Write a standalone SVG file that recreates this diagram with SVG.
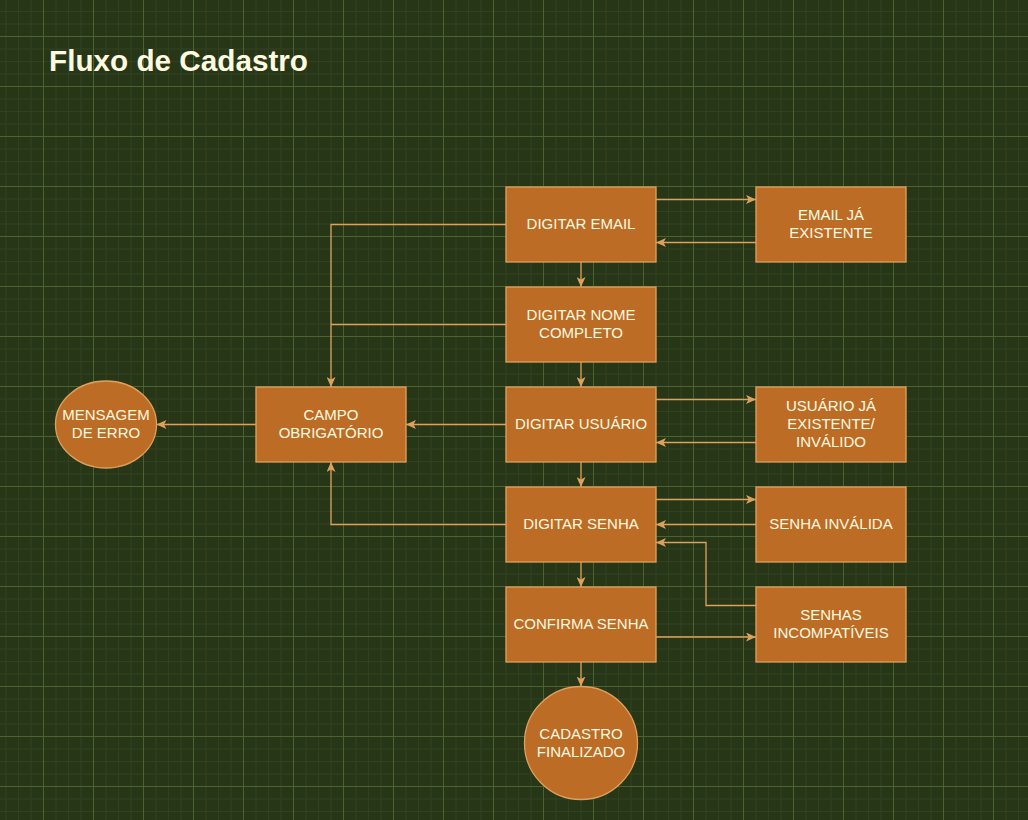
<svg xmlns="http://www.w3.org/2000/svg" width="1028" height="820" viewBox="0 0 1028 820">
  <style>
    .node { fill: #BC6C25; stroke: #DDA15E; stroke-width: 1.3; }
    .lbl { font-family: "Liberation Sans", Arial, sans-serif; font-size: 15px; fill: #FEFAE0; text-anchor: middle; }
    .title { font-family: "Liberation Sans", Arial, sans-serif; font-size: 29.7px; font-weight: bold; fill: #FEFAE0; }
    .edge { fill: none; stroke: #DDA15E; stroke-width: 1.3; }
    .arr { marker-end: url(#arrow); }
  </style>
  <defs>
    <pattern id="grid" x="43" y="36" width="50" height="50" patternUnits="userSpaceOnUse">
      <path d="M13,0 V50 M25.5,0 V50 M38,0 V50 M0,13 H50 M0,25.5 H50 M0,38 H50" stroke="#31411F" stroke-width="1" fill="none"/>
      <path d="M0.5,0 V50 M0,0.5 H50" stroke="#4A6330" stroke-width="1" fill="none"/>
    </pattern>
    <marker id="arrow" viewBox="0 0 10 9" refX="10" refY="4.5" markerWidth="10" markerHeight="9" markerUnits="userSpaceOnUse" orient="auto">
      <path d="M0,0 L10,4.5 L0,9 L2.5,4.5 Z" fill="#DDA15E"/>
    </marker>
  </defs>
  <rect x="0" y="0" width="1028" height="820" fill="#283618"/>
  <rect x="0" y="0" width="1028" height="820" fill="url(#grid)"/>

  <text class="title" x="49" y="71">Fluxo de Cadastro</text>

  <g id="connectors">
    <path class="edge arr" d="M656,199.5 H756"/>
    <path class="edge arr" d="M756,242.5 H656"/>
    <path class="edge arr" d="M581,262 V287"/>
    <path class="edge arr" d="M506,224.5 H331 V387"/>
    <path class="edge" d="M506,324.5 H331"/>
    <path class="edge arr" d="M581,362 V387"/>
    <path class="edge arr" d="M506,424.5 H406"/>
    <path class="edge arr" d="M256,424.5 H156.5"/>
    <path class="edge arr" d="M656,399.5 H756"/>
    <path class="edge arr" d="M756,442.5 H656"/>
    <path class="edge arr" d="M581,462 V487"/>
    <path class="edge arr" d="M506,524.5 H331 V462"/>
    <path class="edge arr" d="M656,499.5 H756"/>
    <path class="edge arr" d="M756,524.5 H656"/>
    <path class="edge arr" d="M756,605.5 H706 V542.5 H656"/>
    <path class="edge arr" d="M656,637 H756"/>
    <path class="edge arr" d="M581,562 V587"/>
    <path class="edge arr" d="M581,662 V686.5"/>
  </g>

  <g id="digitar-email">
    <rect class="node" x="506" y="187" width="150" height="75"/>
    <text class="lbl" x="581" y="229">DIGITAR EMAIL</text>
  </g>
  <g id="email-existente">
    <rect class="node" x="756" y="187" width="150" height="75"/>
    <text class="lbl" x="831" y="219.5">EMAIL JÁ</text>
    <text class="lbl" x="831" y="237.5">EXISTENTE</text>
  </g>
  <g id="digitar-nome">
    <rect class="node" x="506" y="287" width="150" height="75"/>
    <text class="lbl" x="581" y="319.5">DIGITAR NOME</text>
    <text class="lbl" x="581" y="337.5">COMPLETO</text>
  </g>
  <g id="digitar-usuario">
    <rect class="node" x="506" y="387" width="150" height="75"/>
    <text class="lbl" x="581" y="429">DIGITAR USUÁRIO</text>
  </g>
  <g id="usuario-existente">
    <rect class="node" x="756" y="387" width="150" height="75"/>
    <text class="lbl" x="831" y="411">USUÁRIO JÁ</text>
    <text class="lbl" x="831" y="429">EXISTENTE/</text>
    <text class="lbl" x="831" y="447">INVÁLIDO</text>
  </g>
  <g id="campo-obrigatorio">
    <rect class="node" x="256" y="387" width="150" height="75"/>
    <text class="lbl" x="331" y="419.5">CAMPO</text>
    <text class="lbl" x="331" y="437.5">OBRIGATÓRIO</text>
  </g>
  <g id="mensagem-erro">
    <ellipse class="node" cx="106" cy="424.5" rx="50.5" ry="43.5"/>
    <text class="lbl" x="106" y="419.5">MENSAGEM</text>
    <text class="lbl" x="106" y="437.5">DE ERRO</text>
  </g>
  <g id="digitar-senha">
    <rect class="node" x="506" y="487" width="150" height="75"/>
    <text class="lbl" x="581" y="529">DIGITAR SENHA</text>
  </g>
  <g id="senha-invalida">
    <rect class="node" x="756" y="487" width="150" height="75"/>
    <text class="lbl" x="831" y="529">SENHA INVÁLIDA</text>
  </g>
  <g id="confirma-senha">
    <rect class="node" x="506" y="587" width="150" height="75"/>
    <text class="lbl" x="581" y="629">CONFIRMA SENHA</text>
  </g>
  <g id="senhas-incompativeis">
    <rect class="node" x="756" y="587" width="150" height="75"/>
    <text class="lbl" x="831" y="619.5">SENHAS</text>
    <text class="lbl" x="831" y="637.5">INCOMPATÍVEIS</text>
  </g>
  <g id="cadastro-finalizado">
    <circle class="node" cx="581" cy="743" r="56.5"/>
    <text class="lbl" x="581" y="739">CADASTRO</text>
    <text class="lbl" x="581" y="757">FINALIZADO</text>
  </g>
</svg>
